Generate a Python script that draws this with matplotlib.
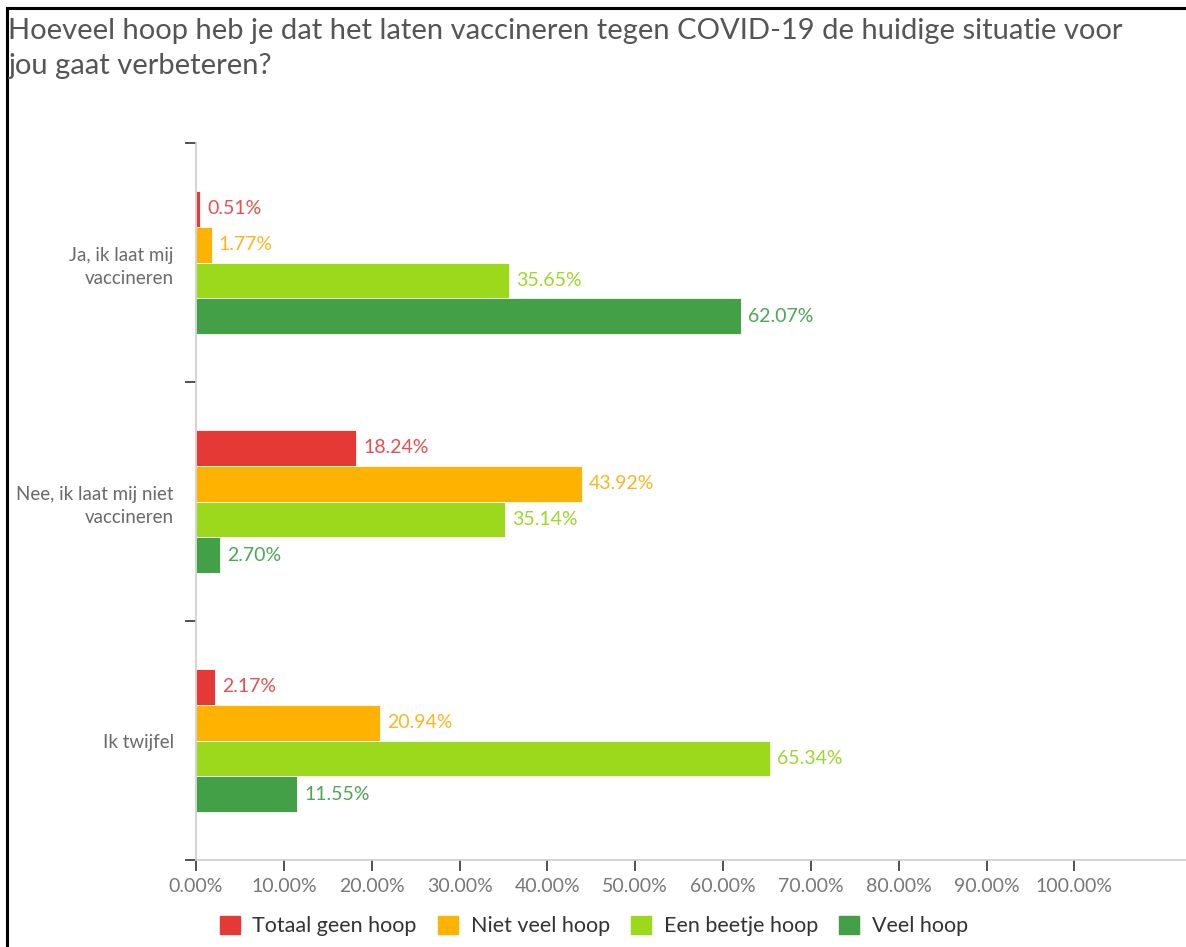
import matplotlib.pyplot as plt
from matplotlib.lines import Line2D
from matplotlib.patches import Rectangle

# === DATA ===
categories = ['Ja, ik laat mij\nvaccineren', 'Nee, ik laat mij niet\nvaccineren', 'Ik twijfel']
series = ['Totaal geen hoop', 'Niet veel hoop', 'Een beetje hoop', 'Veel hoop']
totaal_geen = [0.51, 18.24, 2.17]
niet_veel = [1.77, 43.92, 20.94]
beetje = [35.65, 35.14, 65.34]
veel = [62.07, 2.70, 11.55]
xticks = [0, 10, 20, 30, 40, 50, 60, 70, 80, 90, 100]

colors = ['#E53935', '#FFB300', '#9CD81B', '#43A047']
label_colors = ['#E85050', '#FFB520', '#9CD82A', '#4CA653']
title = ('Hoeveel hoop heb je dat het laten vaccineren tegen COVID-19 de huidige situatie voor\n'
         'jou gaat verbeteren?')

plt.rcParams['font.family'] = ['Lato', 'DejaVu Sans']

fig = plt.figure(figsize=(11.86, 9.47), dpi=100)
ax = fig.add_axes([196 / 1186, 1 - 860 / 947, 1 - 196 / 1186, (860 - 143) / 947])

bar_h = 0.15
values = [totaal_geen, niet_veel, beetje, veel]
for i, (vals, c, lc) in enumerate(zip(values, colors, label_colors)):
    ys = [k - 1.5 * bar_h + i * bar_h for k in range(len(categories))]
    ax.barh(ys, vals, height=bar_h, color=c, edgecolor='white', linewidth=0.6)
    for y, v in zip(ys, vals):
        ax.text(v + 0.8, y, f'{v:.2f}%', va='center', ha='left', fontsize=14, color=lc)

ax.set_xlim(0, 112.7)
ax.set_ylim(2.5, -0.5)

# y axis: ticks at category boundaries, labels at centers
ax.set_yticks([-0.5, 0.5, 1.5, 2.5])
ax.set_yticklabels([])
ax.set_yticks(range(len(categories)), minor=True)
ax.set_yticklabels(categories, minor=True, fontsize=13.5, color='#6a6a6a', linespacing=1.4)
ax.tick_params(axis='y', which='major', length=8, width=1.2, color='#333333', pad=4)
ax.tick_params(axis='y', which='minor', length=0, pad=16)

ax.set_xticks(xticks)
ax.set_xticklabels([f'{t:.2f}%' for t in xticks], fontsize=14, color='#777777')
ax.tick_params(axis='x', length=8, width=1.2, color='#333333', pad=5)

for s in ['top', 'right']:
    ax.spines[s].set_visible(False)
ax.spines['left'].set_color('#cccccc')
ax.spines['bottom'].set_color('#cccccc')
ax.spines['left'].set_linewidth(1.2)
ax.spines['bottom'].set_linewidth(1.2)

fig.text(8 / 1186, 1 - 18 / 947, title, ha='left', va='top', fontsize=21,
         color='#555555', linespacing=1.45)

handles = [Rectangle((0, 0), 1, 1, color=c) for c in colors]
fig.legend(handles, series, loc='center', bbox_to_anchor=(594 / 1186, 1 - 926 / 947),
           ncol=4, frameon=False, fontsize=15.5, handlelength=0.9, handleheight=0.9,
           handletextpad=0.6, columnspacing=1.0, labelcolor='#333333')

# outer frame (black lines on top and left)
fig.add_artist(Line2D([6.5 / 1186, 6.5 / 1186], [0, 1 - 8 / 947], color='black', lw=2.2,
                      transform=fig.transFigure))
fig.add_artist(Line2D([6.5 / 1186, 1], [1 - 8 / 947, 1 - 8 / 947], color='black', lw=2.2,
                      transform=fig.transFigure))

fig.savefig('out.png', dpi=100)
